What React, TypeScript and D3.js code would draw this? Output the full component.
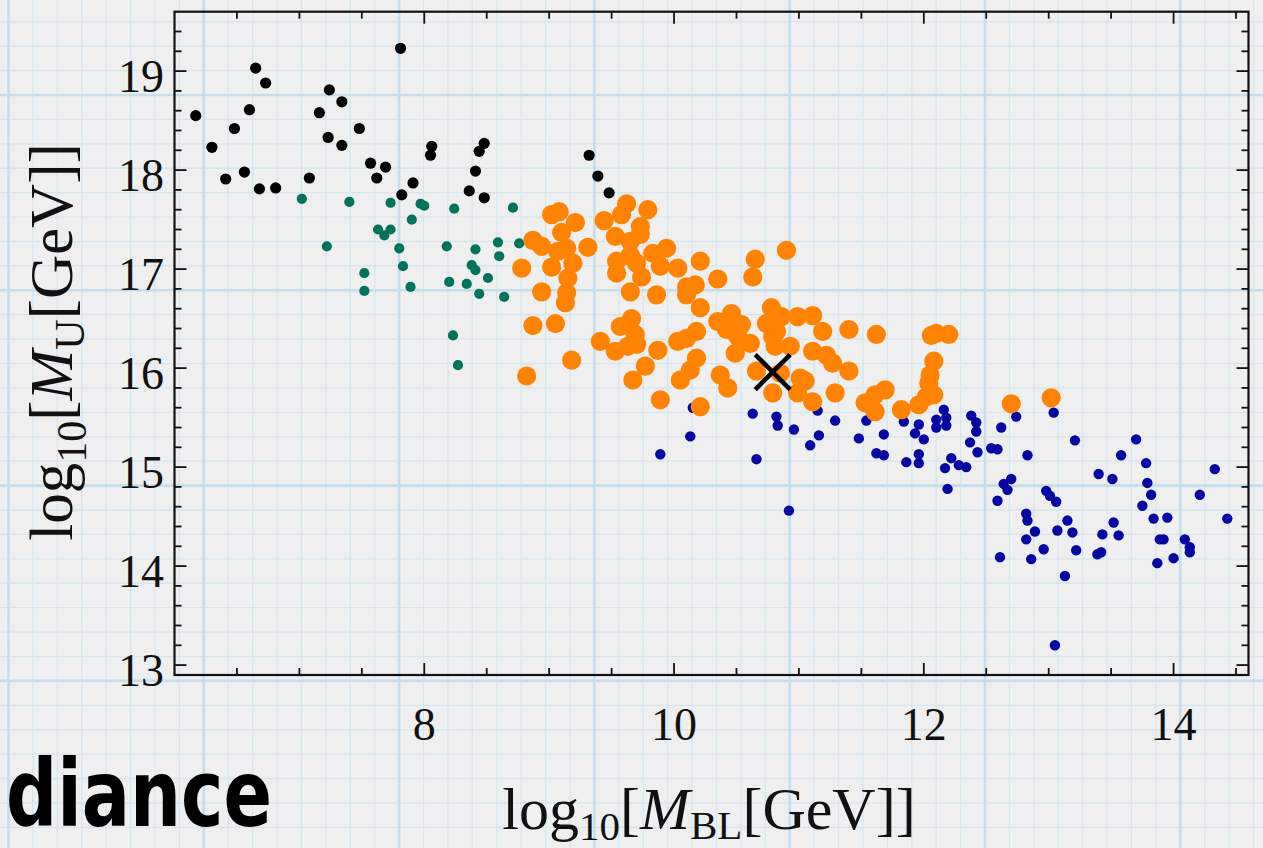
import React from 'react';
import * as d3 from 'd3';

const W = 1263;
const H = 848;

// Black series (log10 M_BL, log10 M_U)
const blackMBL = [6.17,6.30,6.41,6.48,6.56,6.60,6.65,6.73,6.68,6.81,7.08,7.16,7.24,7.23,7.34,7.34,7.48,7.57,7.62,7.69,7.81,7.82,7.91,8.06,8.05,8.48,8.44,8.41,8.36,8.48,9.32,9.39,9.48];
const blackMU = [18.55,18.23,17.91,18.42,17.98,18.61,19.03,18.88,17.81,17.82,17.92,18.58,18.81,18.33,18.69,18.25,18.42,18.07,17.92,18.03,19.23,17.75,17.87,18.24,18.15,18.27,18.19,17.99,17.79,17.72,18.15,17.94,17.77];

// Green series
const greenMBL = [7.02,7.22,7.40,7.52,7.52,7.63,7.68,7.73,7.73,7.80,7.83,7.89,7.90,7.97,8.00,8.24,8.18,8.20,8.23,8.27,8.34,8.41,8.38,8.41,8.44,8.51,8.59,8.60,8.64,8.71,8.76];
const greenMU = [17.71,17.23,17.68,16.96,16.78,17.40,17.34,17.40,17.67,17.21,17.03,16.82,17.50,17.66,17.64,17.61,17.23,16.87,16.33,16.03,16.85,17.20,17.04,16.99,16.75,16.91,17.27,17.13,16.72,17.62,17.26];

// Orange series
const orangeMBL = [9.02,9.08,8.87,8.94,8.78,8.94,9.10,9.21,9.31,9.02,9.07,9.14,9.19,9.15,9.14,9.13,8.87,9.05,8.82,9.18,9.44,9.62,9.58,9.79,9.73,9.53,9.73,9.65,9.65,9.54,9.70,9.83,9.94,9.89,10.03,9.54,9.74,9.65,9.86,10.21,10.35,10.10,10.17,10.65,10.63,10.90,10.10,10.21,10.78,10.74,10.79,10.81,10.46,10.35,10.42,10.54,10.51,10.61,10.49,10.18,10.03,10.10,10.18,10.13,10.05,10.37,10.43,10.21,9.89,10.66,10.79,9.66,9.57,9.69,9.70,9.41,9.53,9.87,9.77,9.67,10.86,10.82,10.93,10.99,11.11,11.19,11.40,10.85,11.01,10.99,11.11,11.11,11.22,11.27,11.29,11.40,11.62,11.53,11.61,11.69,11.61,11.82,11.96,12.02,12.08,12.04,12.05,12.08,12.06,12.10,12.20,12.70,13.02,11.05,9.63,9.65];
const orangeMU = [17.55,17.58,17.29,17.23,17.01,16.77,17.37,17.47,17.22,17.02,17.18,17.21,17.06,16.91,16.76,16.66,16.43,16.45,15.92,16.08,17.49,17.66,17.55,17.60,17.43,17.33,17.35,17.28,17.14,17.08,17.06,17.16,17.21,17.03,17.01,16.96,16.92,16.77,16.74,17.08,16.90,16.82,16.84,17.10,16.92,17.19,16.74,16.61,16.61,16.45,16.32,16.22,16.55,16.47,16.39,16.44,16.32,16.25,16.15,16.37,16.27,16.30,16.10,15.98,15.88,15.93,15.80,15.61,15.68,15.97,15.75,16.50,16.42,16.34,16.24,16.27,16.17,16.18,16.02,15.88,16.52,16.37,16.22,16.52,16.53,16.37,16.39,15.95,15.90,15.75,15.66,16.17,16.13,16.05,15.75,15.97,16.34,15.65,15.73,15.78,15.56,15.58,15.63,15.71,15.73,15.85,15.93,16.07,16.33,16.35,16.34,15.64,15.70,15.87,16.22,17.13];

// Blue series
const blueMBL = [10.15,10.63,10.82,10.83,10.96,11.15,11.16,11.09,11.29,10.13,9.89,10.66,10.92,11.54,11.48,11.68,11.62,11.68,11.84,11.86,11.96,11.93,12.00,11.96,11.96,12.10,12.10,12.16,12.18,12.18,12.22,12.17,12.28,12.34,12.19,12.38,12.42,12.42,12.37,12.43,12.54,12.59,12.62,12.74,12.83,12.70,12.64,12.67,12.59,12.61,13.04,13.21,12.82,12.83,12.89,12.82,12.86,12.96,12.98,13.01,13.06,13.15,13.07,13.19,13.22,13.13,13.05,13.40,13.51,13.58,13.70,13.52,13.43,13.56,13.39,13.42,13.78,13.79,13.82,13.75,13.84,13.95,13.89,13.92,13.87,14.00,14.09,14.13,14.13,14.21,14.33,14.43];
const blueMU = [15.60,15.54,15.51,15.42,15.38,15.57,15.32,15.22,15.47,15.31,15.13,15.08,14.56,15.47,15.29,15.33,15.14,15.12,15.46,15.05,15.43,15.34,15.28,15.13,15.04,15.48,15.40,15.58,15.50,15.42,15.09,14.99,15.02,15.00,14.78,15.52,15.45,15.36,15.25,15.15,15.19,15.18,15.40,15.51,15.12,14.88,14.83,14.77,14.66,14.09,15.55,15.27,14.53,14.46,14.35,14.27,14.07,14.17,14.76,14.71,14.65,14.46,14.36,14.34,14.16,13.90,13.20,14.93,14.88,15.12,15.28,14.44,14.32,14.31,14.12,14.14,15.04,14.84,14.72,14.61,14.48,14.49,14.27,14.27,14.03,14.08,14.27,14.19,14.14,14.72,14.98,14.48];

// Benchmark point (cross)
const benchMBL = [10.79];
const benchMU = [15.96];

const xTickLabels = [8, 10, 12, 14];
const yTickLabels = [13, 14, 15, 16, 17, 18, 19];

const SERIF = '"Liberation Serif", "DejaVu Serif", serif';

export default function App() {
  const x = d3.scaleLinear().domain([6, 14.6]).range([174.5, 1248.5]);
  const y = d3.scaleLinear().domain([12.9, 19.6]).range([675, 11.7]);
  const [x0, x1] = x.range();
  const [y0, y1] = y.range();

  const xMinor = d3.range(13, 30).map((i) => i / 2);
  const yMinor = d3.range(65, 98).map((i) => i / 5);

  // graph-paper background
  const step = 195.3 / 8;
  const vLines = d3.range(0, 54).map((k) => ({ p: 8.5 + k * step, major: k % 8 === 0 }));
  const hLines = d3.range(-4, 32).map((k) => ({ p: 95 + k * step, major: ((k % 8) + 8) % 8 === 0 }));

  const series = [
    { xs: blackMBL, ys: blackMU, color: '#000000', r: 5.6 },
    { xs: greenMBL, ys: greenMU, color: '#00735A', r: 5.1 },
    { xs: blueMBL, ys: blueMU, color: '#0606A2', r: 5.2 },
    { xs: orangeMBL, ys: orangeMU, color: '#FF8200', r: 9.6 },
  ];

  const tickLen = (major: boolean) => (major ? 12 : 7);

  return (
    <svg
      width={W}
      height={H}
      style={{ position: 'fixed', left: 0, top: 0, display: 'block' }}
      xmlns="http://www.w3.org/2000/svg"
    >
      <rect x={0} y={0} width={W} height={H} fill="#efefef" />
      <g>
        {vLines.filter((l) => !l.major).map((l, i) => (
          <line key={'vm' + i} x1={l.p} x2={l.p} y1={0} y2={H} stroke="#d6e6ef" strokeWidth={1.3} />
        ))}
        {hLines.filter((l) => !l.major).map((l, i) => (
          <line key={'hm' + i} x1={0} x2={W} y1={l.p} y2={l.p} stroke="#d6e6ef" strokeWidth={1.3} />
        ))}
        {vLines.filter((l) => l.major).map((l, i) => (
          <line key={'vM' + i} x1={l.p} x2={l.p} y1={0} y2={H} stroke="#c6ddec" strokeWidth={2.6} />
        ))}
        {hLines.filter((l) => l.major).map((l, i) => (
          <line key={'hM' + i} x1={0} x2={W} y1={l.p} y2={l.p} stroke="#c6ddec" strokeWidth={2.6} />
        ))}
      </g>

      {/* ticks */}
      <g stroke="#111" strokeWidth={1.8}>
        {xMinor.map((v) => {
          const major = xTickLabels.includes(v);
          const L = tickLen(major);
          return (
            <g key={'xt' + v}>
              <line x1={x(v)} x2={x(v)} y1={y0} y2={y0 - L} />
              <line x1={x(v)} x2={x(v)} y1={y1} y2={y1 + L} />
            </g>
          );
        })}
        {yMinor.map((v) => {
          const major = Math.abs(v - Math.round(v)) < 1e-6;
          const L = tickLen(major);
          return (
            <g key={'yt' + v}>
              <line x1={x0} x2={x0 + L} y1={y(v)} y2={y(v)} />
              <line x1={x1} x2={x1 - L} y1={y(v)} y2={y(v)} />
            </g>
          );
        })}
      </g>

      {/* points */}
      {series.map((s, si) => (
        <g key={'s' + si} fill={s.color}>
          {s.xs.map((xv, i) => (
            <circle key={i} cx={x(xv)} cy={y(s.ys[i])} r={s.r} />
          ))}
        </g>
      ))}

      {/* benchmark cross */}
      {benchMBL.map((bv, i) => {
        const cx = x(bv);
        const cy = y(benchMU[i]);
        const a = 17.5;
        return (
          <g key={'b' + i} stroke="#000" strokeWidth={4.6}>
            <line x1={cx - a} y1={cy - a} x2={cx + a} y2={cy + a} />
            <line x1={cx - a} y1={cy + a} x2={cx + a} y2={cy - a} />
          </g>
        );
      })}

      {/* frame */}
      <rect x={x0} y={y1} width={x1 - x0} height={y0 - y1} fill="none" stroke="#111" strokeWidth={2.2} />

      {/* tick labels */}
      <g fontFamily={SERIF} fontSize={46} fill="#111">
        {xTickLabels.map((v) => (
          <text key={'xl' + v} x={x(v)} y={740} textAnchor="middle">
            {v}
          </text>
        ))}
        {yTickLabels.map((v) => (
          <text key={'yl' + v} x={164} y={y(v) + 21} textAnchor="end">
            {v}
          </text>
        ))}
      </g>

      {/* axis labels */}
      <text x={709} y={829} textAnchor="middle" fontFamily={SERIF} fontSize={60} fill="#111">
        <tspan>log</tspan>
        <tspan fontSize={41} dy={11}>10</tspan>
        <tspan dy={-11}>[</tspan>
        <tspan fontStyle="italic">M</tspan>
        <tspan fontSize={41} dy={10}>BL</tspan>
        <tspan dy={-10}>[GeV]]</tspan>
      </text>
      <text
        transform="translate(72,342) rotate(-90)"
        textAnchor="middle"
        fontFamily={SERIF}
        fontSize={61}
        fill="#111"
      >
        <tspan>log</tspan>
        <tspan fontSize={42} dy={14}>10</tspan>
        <tspan dy={-14}>[</tspan>
        <tspan fontStyle="italic">M</tspan>
        <tspan fontSize={42} dy={12}>U</tspan>
        <tspan dy={-12}>[GeV]]</tspan>
      </text>

      {/* slide title fragment */}
      <text
        x={6}
        y={826}
        fontFamily='"DejaVu Sans", sans-serif'
        fontWeight="bold"
        fontSize={92}
        textLength={266}
        lengthAdjust="spacingAndGlyphs"
        fill="#000"
      >
        diance
      </text>
    </svg>
  );
}
